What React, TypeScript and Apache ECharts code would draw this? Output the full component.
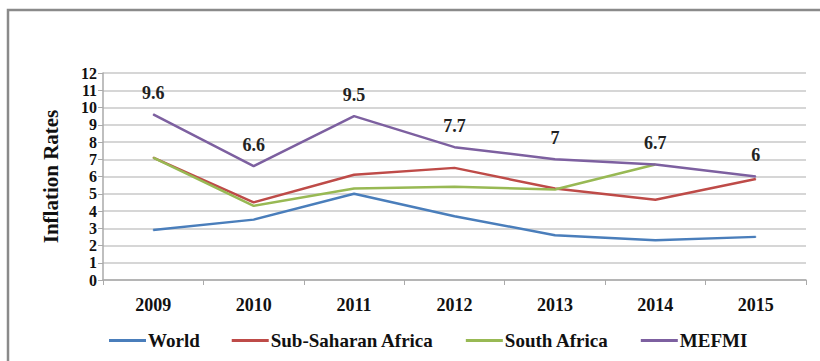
import React, { useEffect, useRef } from "react";
import * as echarts from "echarts";

const years = ["2009", "2010", "2011", "2012", "2013", "2014", "2015"];
const world = [2.9, 3.5, 5.0, 3.7, 2.6, 2.3, 2.5];
const subSaharan = [7.1, 4.5, 6.1, 6.5, 5.3, 4.65, 5.85];
const southAfrica = [7.1, 4.3, 5.3, 5.4, 5.25, 6.7, null];
const mefmi = [9.6, 6.6, 9.5, 7.7, 7.0, 6.7, 6.0];
const legendNames = ["World", "Sub-Saharan Africa", "South Africa", "MEFMI"];

const FONT = "Liberation Serif";

export default function App() {
  const ref = useRef<HTMLDivElement>(null);
  useEffect(() => {
    if (!ref.current) return;
    const chart = echarts.init(ref.current, null, { renderer: "svg" });
    const mk = (name: string, data: any[], color: string, labels = false) => ({
      name,
      type: "line",
      data,
      symbol: "circle",
      symbolSize: 1,
      showSymbol: true,
      connectNulls: false,
      lineStyle: { color, width: 2.5 },
      itemStyle: { color },
      label: labels
        ? {
            show: true,
            position: "top",
            distance: 12,
            fontFamily: FONT,
            fontWeight: "bold",
            fontSize: 18,
            color: "#222",
          }
        : { show: false },
    });
    chart.setOption({
      animation: false,
      backgroundColor: "#ffffff",
      graphic: [
        {
          type: "rect",
          shape: { x: 8, y: 10, width: 830, height: 380 },
          style: { fill: "none", stroke: "#8a8a8a", lineWidth: 2.5 },
          z: 100,
        },
      ],
      grid: { left: 103, right: 14, top: 73, bottom: 81 },
      xAxis: {
        type: "category",
        data: years,
        boundaryGap: true,
        axisLine: { lineStyle: { color: "#aaaaaa", width: 1.5 } },
        axisTick: { show: true, length: 5, lineStyle: { color: "#aaaaaa" } },
        axisLabel: {
          fontFamily: FONT,
          fontWeight: "bold",
          fontSize: 18,
          color: "#111",
          margin: 16,
        },
      },
      yAxis: {
        type: "value",
        min: 0,
        max: 12,
        interval: 1,
        name: "Inflation Rates",
        nameLocation: "middle",
        nameGap: 42,
        nameRotate: 90,
        nameTextStyle: {
          fontFamily: FONT,
          fontWeight: "bold",
          fontSize: 21,
          color: "#111",
        },
        axisLine: { show: true, lineStyle: { color: "#aaaaaa", width: 1.5 } },
        axisTick: { show: true, length: 5, lineStyle: { color: "#aaaaaa" } },
        splitLine: { lineStyle: { color: "#c8c8c8", width: 1.5 } },
        axisLabel: {
          fontFamily: FONT,
          fontWeight: "bold",
          fontSize: 16,
          color: "#111",
          margin: 6,
        },
      },
      legend: {
        bottom: 6,
        left: 104,
        icon: "rect",
        itemWidth: 37,
        itemHeight: 3,
        itemGap: 32,
        textStyle: {
          fontFamily: FONT,
          fontWeight: "bold",
          fontSize: 19,
          color: "#111",
          padding: [0, 0, 0, -3],
        },
        data: legendNames,
      },
      series: [
        mk(legendNames[0], world, "#4a7ebb"),
        mk(legendNames[1], subSaharan, "#be4b48"),
        mk(legendNames[2], southAfrica, "#98b954"),
        mk(legendNames[3], mefmi, "#7d60a0", true),
      ],
    });
    return () => chart.dispose();
  }, []);
  return (
    <div
      ref={ref}
      style={{ position: "fixed", left: 0, top: 0, width: 820, height: 361 }}
    />
  );
}
